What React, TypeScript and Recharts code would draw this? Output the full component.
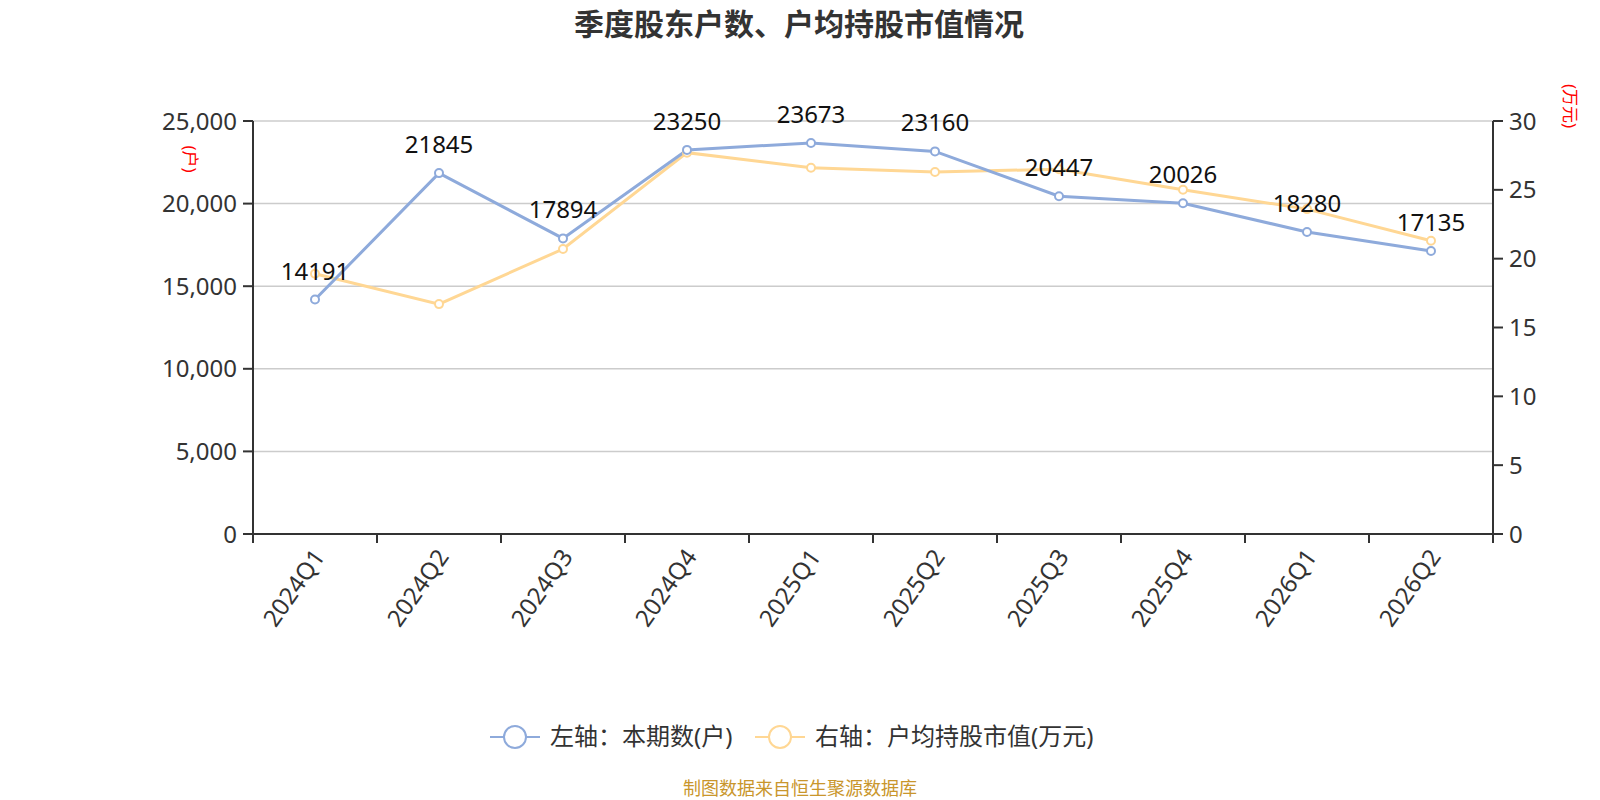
import { CartesianGrid, LabelList, Line, LineChart, XAxis, YAxis } from 'recharts'

const QUARTERS = ['2024Q1', '2024Q2', '2024Q3', '2024Q4', '2025Q1', '2025Q2', '2025Q3', '2025Q4', '2026Q1', '2026Q2']
const HOLDERS = [14191, 21845, 17894, 23250, 23673, 23160, 20447, 20026, 18280, 17135]
const AVG_VALUE = [18.9, 16.7, 20.7, 27.7, 26.6, 26.3, 26.5, 25.0, 23.6, 21.3]
const LEFT_TICKS = [0, 5000, 10000, 15000, 20000, 25000]
const RIGHT_TICKS = [0, 5, 10, 15, 20, 25, 30]

const BLUE = '#8eaadb'
const ORANGE = '#ffd794'
const FONT = "'Noto Sans', 'Noto Sans CJK SC', sans-serif"

const data = QUARTERS.map((q, i) => ({ q, holders: HOLDERS[i], avg: AVG_VALUE[i] }))

const HALF_BAND = 62

function QuarterTick(props: any) {
  const { x, y, payload, index } = props
  return (
    <g>
      <line x1={x - HALF_BAND} y1={y - 8} x2={x - HALF_BAND} y2={y + 1} stroke="#333" strokeWidth={2} />
      {index === QUARTERS.length - 1 && (
        <line x1={x + HALF_BAND} y1={y - 8} x2={x + HALF_BAND} y2={y + 1} stroke="#333" strokeWidth={2} />
      )}
      <text
        x={x + 4}
        y={y + 10}
        dy="0.35em"
        textAnchor="end"
        transform={`rotate(-55, ${x + 4}, ${y + 10})`}
        fontSize={24}
        fill="#333"
        fontFamily={FONT}
      >
        {payload.value}
      </text>
    </g>
  )
}

function HolderLabel(props: any) {
  const { x, y, value } = props
  return (
    <text x={x} y={y - 20} textAnchor="middle" fontSize={24} fill="#111" fontFamily={FONT}>
      {value}
    </text>
  )
}

function LegendItem({ x, color, label }: { x: number; color: string; label: string }) {
  return (
    <g>
      <line x1={x} y1={737} x2={x + 50} y2={737} stroke={color} strokeWidth={2} />
      <circle cx={x + 25} cy={737} r={11} fill="#fff" stroke={color} strokeWidth={2} />
      <text x={x + 60} y={737} dy="0.35em" fontSize={24} fill="#333" fontFamily={FONT}>
        {label}
      </text>
    </g>
  )
}

function App() {
  return (
    <div style={{ position: 'absolute', left: 0, top: 0, width: 1600, height: 800, background: '#fff' }}>
      <LineChart
        width={1600}
        height={800}
        data={data}
        margin={{ top: 121, right: 27, left: 153, bottom: 146 }}
      >
        <CartesianGrid yAxisId="left" vertical={false} stroke="#ccc" strokeWidth={1.5} />
        <XAxis
          dataKey="q"
          height={120}
          interval={0}
          padding={{ left: HALF_BAND, right: HALF_BAND }}
          axisLine={{ stroke: '#333', strokeWidth: 2 }}
          tickLine={false}
          tick={<QuarterTick />}
        />
        <YAxis
          yAxisId="left"
          width={100}
          domain={[0, 25000]}
          ticks={LEFT_TICKS}
          tickFormatter={(v: number) => v.toLocaleString('en-US')}
          axisLine={{ stroke: '#333', strokeWidth: 2 }}
          tickLine={{ stroke: '#333', strokeWidth: 2 }}
          tickSize={10}
          tickMargin={6}
          tick={{ fontSize: 24, fill: '#333', fontFamily: FONT }}
        />
        <YAxis
          yAxisId="right"
          orientation="right"
          width={80}
          domain={[0, 30]}
          ticks={RIGHT_TICKS}
          axisLine={{ stroke: '#333', strokeWidth: 2 }}
          tickLine={{ stroke: '#333', strokeWidth: 2 }}
          tickSize={10}
          tickMargin={6}
          tick={{ fontSize: 24, fill: '#333', fontFamily: FONT }}
        />
        <Line
          yAxisId="right"
          type="linear"
          dataKey="avg"
          stroke={ORANGE}
          strokeWidth={3}
          dot={{ r: 4, fill: '#fff', stroke: ORANGE, strokeWidth: 2 }}
          isAnimationActive={false}
        />
        <Line
          yAxisId="left"
          type="linear"
          dataKey="holders"
          stroke={BLUE}
          strokeWidth={3}
          dot={{ r: 4, fill: '#fff', stroke: BLUE, strokeWidth: 2 }}
          isAnimationActive={false}
        >
          <LabelList dataKey="holders" content={<HolderLabel />} />
        </Line>
      </LineChart>
      <svg
        width={1600}
        height={800}
        style={{ position: 'absolute', left: 0, top: 0, pointerEvents: 'none' }}
      >
        <text x={799} y={24} dy="0.35em" textAnchor="middle" fontSize={30} fontWeight="bold" fill="#333" fontFamily={FONT}>
          季度股东户数、户均持股市值情况
        </text>
        <text x={190} y={159} dy="0.35em" textAnchor="middle" fontSize={17} fill="red" fontFamily={FONT} transform="rotate(90, 190, 159)">
          (户)
        </text>
        <text x={1570} y={106} dy="0.35em" textAnchor="middle" fontSize={17} fill="red" fontFamily={FONT} transform="rotate(90, 1570, 106)">
          (万元)
        </text>
        <LegendItem x={490} color={BLUE} label="左轴：本期数(户)" />
        <LegendItem x={755} color={ORANGE} label="右轴：户均持股市值(万元)" />
        <text x={800} y={789} dy="0.35em" textAnchor="middle" fontSize={18} fill="#c9962c" fontFamily={FONT}>
          制图数据来自恒生聚源数据库
        </text>
      </svg>
    </div>
  )
}

export default App
